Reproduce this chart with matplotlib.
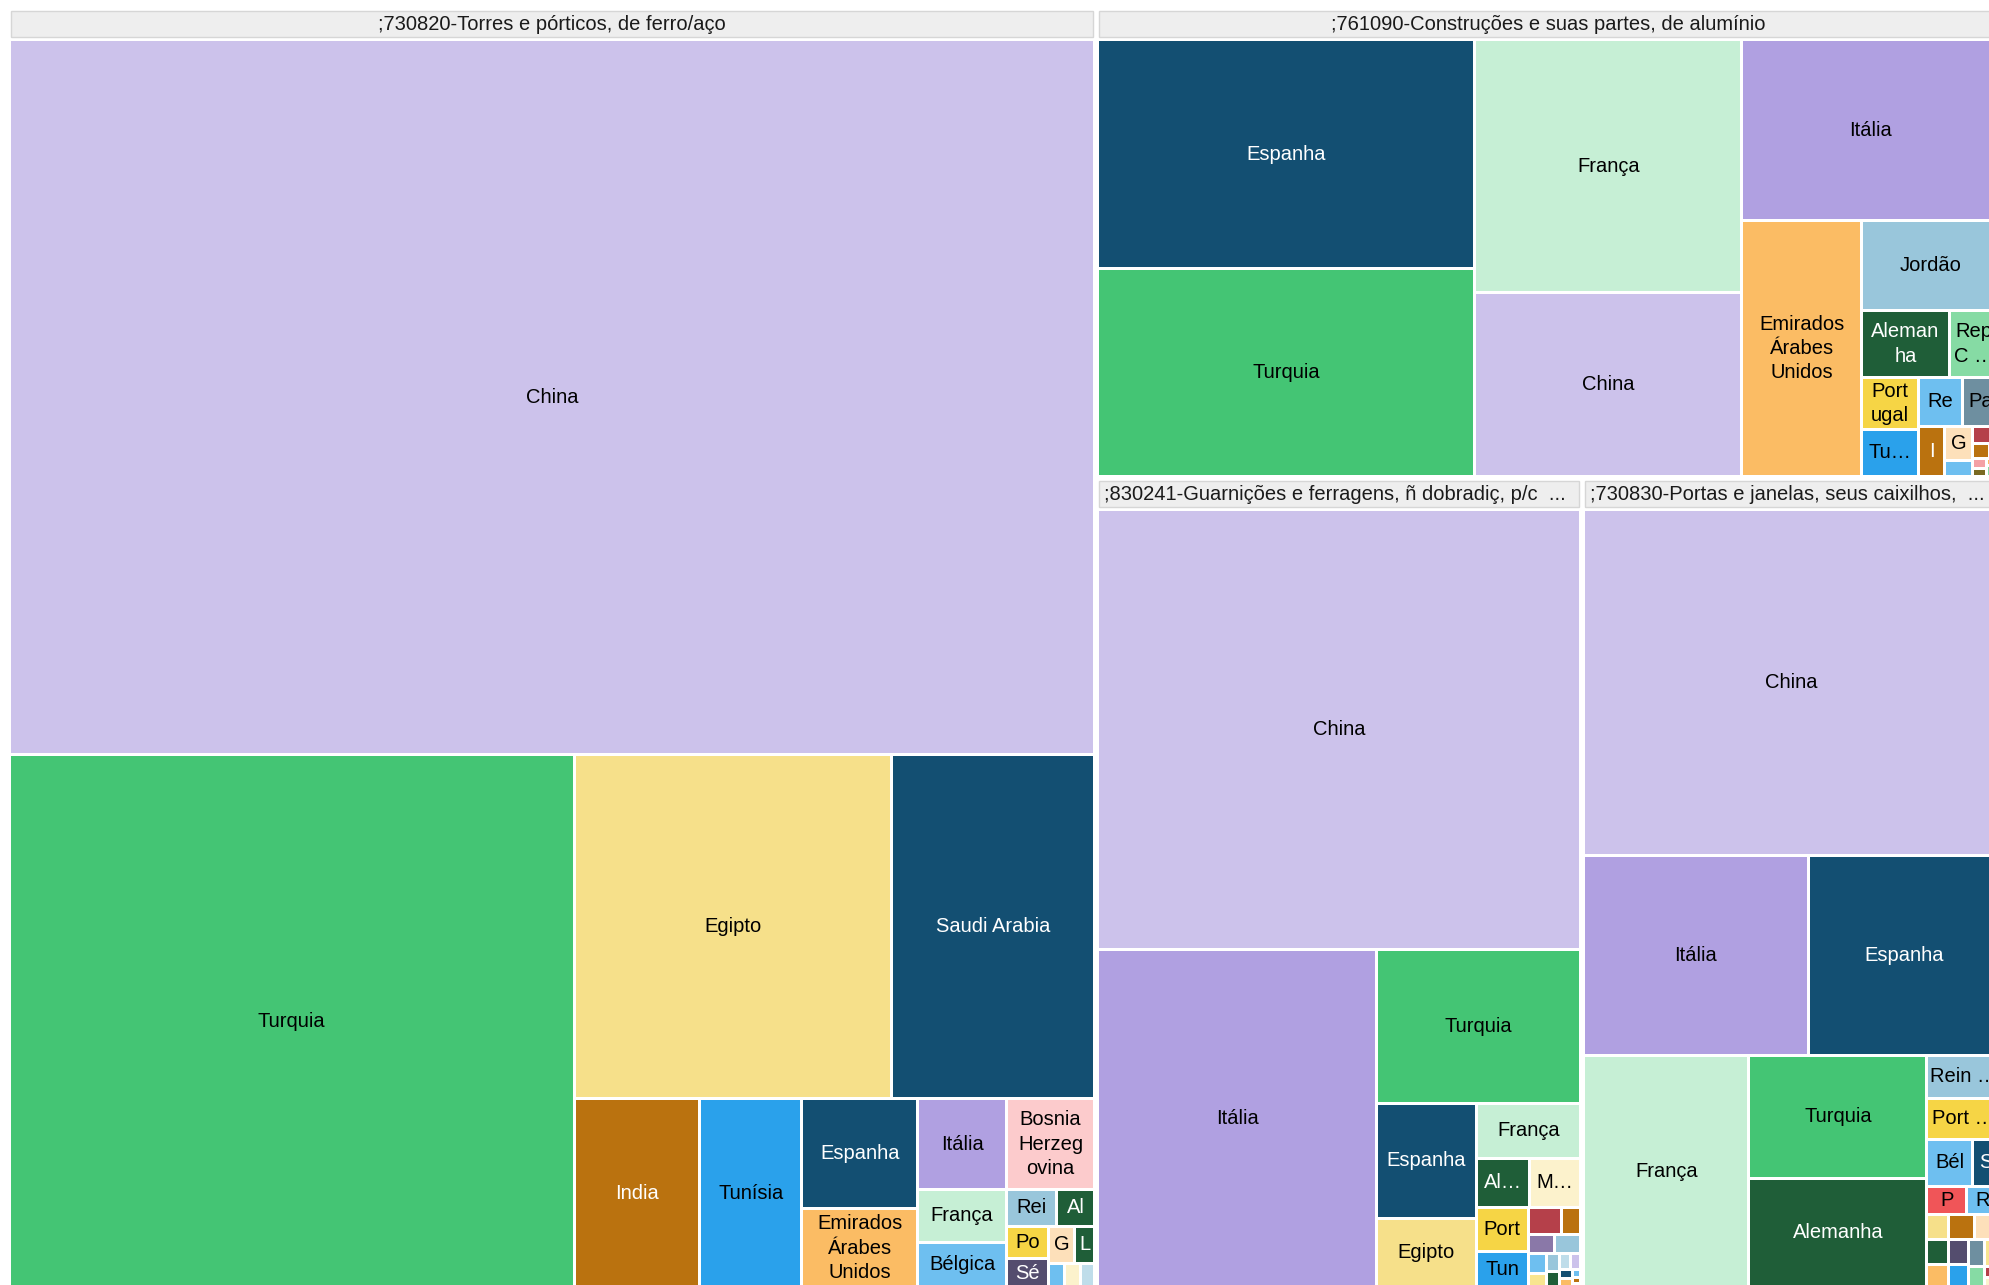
import matplotlib
matplotlib.use("Agg")
import matplotlib.pyplot as plt
from matplotlib.patches import Rectangle
from matplotlib.colors import to_rgb

# ------------------------------------------------------------------ data
categories = [
    ";730820-Torres e pórticos, de ferro/aço",
    ";761090-Construções e suas partes, de alumínio",
    ";830241-Guarnições e ferragens, ñ dobradiç, p/c  ...",
    ";730830-Portas e janelas, seus caixilhos,  ...",
]

g1_countries = ["China", "Turquia", "Egipto", "Saudi Arabia", "India", "Tunísia", "Espanha",
                "Emirados Árabes Unidos", "Itália", "Bosnia Herzegovina", "França", "Bélgica",
                "Reino Unido", "Alemanha", "Portugal", "Sérvia", "Grécia", "Líbano",
                "Roménia", "Marrocos", "Kuwait"]
g1_values = [799100, 309600, 112300, 72200, 24420, 19740, 13150, 9390, 8230, 8200, 4840, 4120,
             1920, 1450, 1420, 1260, 990, 780, 400, 390, 370]
g1_labels = ["China", "Turquia", "Egipto", "Saudi Arabia", "India", "Tunísia", "Espanha",
             "Emirados\nÁrabes\nUnidos", "Itália", "Bosnia\nHerzeg\novina", "França", "Bélgica",
             "Rei", "Al", "Po", "Sé", "G", "L", "", "", ""]

g2_countries = ["Espanha", "Turquia", "França", "China", "Itália", "Emirados Árabes Unidos",
                "Jordão", "Alemanha", "República Checa", "Portugal", "Tunísia", "Reunião",
                "Países Baixos", "India", "Grécia", "Bélgica", "Angola", "Qatar", "Polónia",
                "Moçambique", "Cabo Verde", "Omã", "Líbia", "Sérvia"]
g2_values = [93320, 84370, 72880, 52660, 50480, 33210, 13380, 6220, 3600, 3190, 2850, 2320,
             1980, 1420, 1020, 450, 520, 260, 160, 150, 120, 110, 80, 70]
g2_labels = ["Espanha", "Turquia", "França", "China", "Itália", "Emirados\nÁrabes\nUnidos",
             "Jordão", "Aleman\nha", "Rep\nC …", "Port\nugal", "Tu…", "Re",
             "Pa", "I", "G", "", "", "", "", "", "", "", "", ""]

g3_countries = ["China", "Itália", "Turquia", "Espanha", "Egipto", "França", "Alemanha",
                "Marrocos", "Portugal", "Tunísia", "Angola", "India", "Argélia", "Reino Unido",
                "Bélgica", "Gana", "Jordão", "Líbano", "Kuwait", "Brasil", "Saudi Arabia",
                "Emirados Árabes Unidos", "Roménia", "Iraque", "Polónia"]
g3_values = [223170, 98550, 32810, 12100, 7250, 6080, 2720, 2590, 2430, 1930, 955, 545, 535,
             530, 380, 260, 250, 220, 180, 157, 130, 115, 78, 47, 37]
g3_labels = ["China", "Itália", "Turquia", "Espanha", "Egipto", "França", "Al…", "M…",
             "Port", "Tun", "", "", "", "", "", "", "", "", "", "", "", "", "", "", ""]

g4_countries = ["China", "Itália", "Espanha", "França", "Turquia", "Alemanha", "Reino Unido",
                "Portugal", "Bélgica", "Suíça", "Polónia", "Roménia", "Egipto", "India",
                "Grécia", "Líbano", "Emirados Árabes Unidos", "Sérvia", "Tunísia",
                "Países Baixos", "Gana", "República Checa", "Angola", "Marrocos"]
g4_values = [151410, 47080, 40040, 40370, 22970, 20450, 3270, 3120, 2290, 1320, 1150, 970,
             580, 690, 680, 560, 535, 500, 473, 447, 410, 370, 180, 150]
g4_labels = ["China", "Itália", "Espanha", "França", "Turquia", "Alemanha", "Rein …",
             "Port …", "Bél", "S", "P", "R", "", "", "", "", "", "", "", "", "", "", "", ""]

groups_countries = [g1_countries, g2_countries, g3_countries, g4_countries]
groups_values = [g1_values, g2_values, g3_values, g4_values]
groups_labels = [g1_labels, g2_labels, g3_labels, g4_labels]

palette = {
    "China": "#CCC2EB", "Turquia": "#44C574", "Egipto": "#F6E08A", "Saudi Arabia": "#134F72",
    "Espanha": "#134F72", "India": "#BA720F", "Tunísia": "#2AA1EB",
    "Emirados Árabes Unidos": "#FBBC64", "Itália": "#B0A0E1", "França": "#C6EFD5",
    "Bosnia Herzegovina": "#FCCBCC", "Reino Unido": "#99C6DB", "Alemanha": "#1F5E38",
    "Portugal": "#F6D545", "Grécia": "#FDE0BA", "Líbano": "#1F5E38", "Bélgica": "#6EBFF0",
    "Sérvia": "#544D6E", "Jordão": "#99C6DB", "República Checa": "#86DBA4",
    "Reunião": "#6EBFF0", "Países Baixos": "#6E8FA0", "Marrocos": "#FCF2CC",
    "Suíça": "#134F72", "Polónia": "#F05558", "Roménia": "#6EBFF0", "Angola": "#B5404A",
    "Argélia": "#8A78A8", "Moçambique": "#F4A1A6", "Cabo Verde": "#7A6A22",
    "Qatar": "#BA720F", "Omã": "#FBBC64", "Líbia": "#86DBA4", "Kuwait": "#BFDDEA",
    "Gana": "#F8E58F", "Brasil": "#CCC2EB", "Iraque": "#BA720F",
}

# ------------------------------------------------------------------ layout helpers
def squarify(values, x0, y0, x1, y1, ratio=1.0):
    """d3-hierarchy squarifyRatio tiling (y axis pointing down)."""
    n = len(values)
    rects = [None] * n
    total = float(sum(values))
    i0 = 0
    while i0 < n:
        dx, dy = x1 - x0, y1 - y0
        i1 = i0
        sum_v = float(values[i1]); i1 += 1
        min_v = max_v = sum_v
        alpha = max(dy / dx, dx / dy) / (total * ratio)
        beta = sum_v * sum_v * alpha
        min_ratio = max(max_v / beta, beta / min_v)
        while i1 < n:
            v = float(values[i1])
            s = sum_v + v
            mn, mx = min(min_v, v), max(max_v, v)
            beta = s * s * alpha
            new_ratio = max(mx / beta, beta / mn)
            if new_ratio > min_ratio:
                break
            sum_v, min_v, max_v, min_ratio = s, mn, mx, new_ratio
            i1 += 1
        row = range(i0, i1)
        if dx < dy:
            yy = y0 + dy * sum_v / total if i1 < n else y1
            xx = x0
            for k in row:
                w = dx * values[k] / sum_v
                rects[k] = (xx, y0, xx + w, yy)
                xx += w
            y0 = yy
        else:
            xx = x0 + dx * sum_v / total if i1 < n else x1
            yy = y0
            for k in row:
                h = dy * values[k] / sum_v
                rects[k] = (x0, yy, xx, yy + h)
                yy += h
            x0 = xx
        total -= sum_v
        i0 = i1
    return rects


def inset(r, p):
    return (r[0] + p, r[1] + p, r[2] - p, r[3] - p)


def text_color(c):
    r, g, b = to_rgb(c)
    return "white" if (0.299 * r + 0.587 * g + 0.114 * b) < 0.5 else "black"


# ------------------------------------------------------------------ figure
W, H = 1990, 1285
fig = plt.figure(figsize=(W / 100, H / 100), dpi=100)
ax = fig.add_axes([0, 0, 1, 1])
ax.set_xlim(0, W)
ax.set_ylim(H, 0)
ax.axis("off")

FONT = "Liberation Sans"
FS = 14.5
OUTER_GAP = 3.0
INNER_GAP = 1.5
HEADER_H = 26.0
HEADER_PAD = 28.5

group_totals = [sum(v) for v in groups_values]
group_rects = squarify(group_totals, 8, 8, 2001, 1289)

for gi, grect in enumerate(group_rects):
    gx0, gy0, gx1, gy1 = inset(grect, OUTER_GAP)
    # header bar
    ax.add_patch(Rectangle((gx0, gy0), gx1 - gx0, HEADER_H, facecolor="#EEEEEE",
                           edgecolor="#D6D6D6", linewidth=1.0))
    title = categories[gi]
    if title.endswith("..."):
        ax.text(gx0 + 5, gy0 + HEADER_H / 2 + 0.5, title, ha="left", va="center",
                fontsize=FS, family=FONT, color="#1a1a1a")
    else:
        ax.text((gx0 + gx1) / 2, gy0 + HEADER_H / 2 + 0.5, title, ha="center", va="center",
                fontsize=FS, family=FONT, color="#1a1a1a")
    # children
    vals = groups_values[gi]
    crs = squarify(vals, gx0 - INNER_GAP, gy0 + HEADER_PAD, gx1 + INNER_GAP, gy1 + INNER_GAP)
    for name, lab, cr in zip(groups_countries[gi], groups_labels[gi], crs):
        x0, y0, x1, y1 = inset(cr, INNER_GAP)
        col = palette[name]
        patch = Rectangle((x0, y0), x1 - x0, y1 - y0, facecolor=col, edgecolor="none")
        ax.add_patch(patch)
        if lab:
            t = ax.text((x0 + x1) / 2, (y0 + y1) / 2, lab, ha="center", va="center",
                        fontsize=FS, family=FONT, color=text_color(col),
                        linespacing=1.36, multialignment="center", clip_on=True)
            t.set_clip_path(patch)

fig.savefig("out.png", dpi=100, facecolor="white")
